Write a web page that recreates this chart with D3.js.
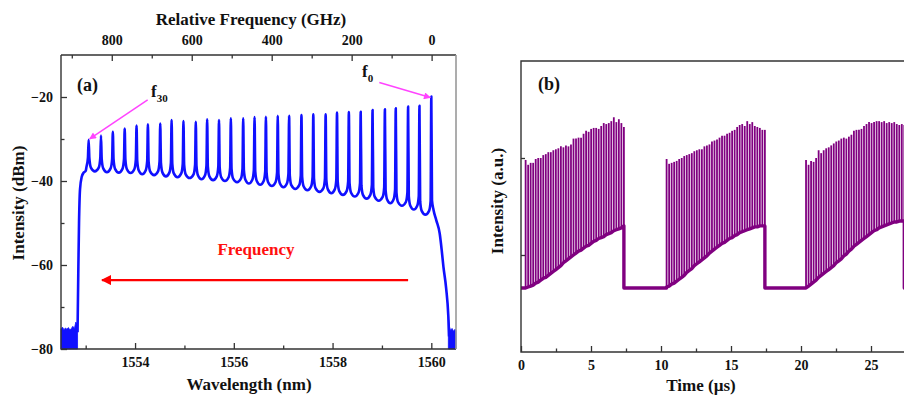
<!DOCTYPE html>
<html>
<head>
<meta charset="utf-8">
<script src="https://cdn.jsdelivr.net/npm/d3@7"></script>
<style>
  body { margin: 0; background: #fff; }
  svg text { font-family: "Liberation Serif", "Times New Roman", serif; font-weight: bold; fill: #111; }
</style>
</head>
<body>
<svg id="chart" width="904" height="399"></svg>
<script>
// ---------- panel (a): comb spectrum ----------
// comb lines, short -> long wavelength (f30 ... f0)
const peakWl = [1553.06, 1553.31, 1553.55, 1553.79, 1554.03, 1554.26, 1554.51, 1554.74, 1554.98, 1555.23,
                1555.46, 1555.70, 1555.94, 1556.19, 1556.42, 1556.65, 1556.89, 1557.12, 1557.37, 1557.61,
                1557.86, 1558.09, 1558.33, 1558.57, 1558.81, 1559.06, 1559.28, 1559.53, 1559.76, 1560.00];
const peakDbm = [-30.2, -29.2, -28.3, -27.5, -26.8, -26.5, -26.3, -25.5, -25.7, -25.9,
                 -25.3, -25.5, -25.1, -25.1, -24.8, -24.7, -24.5, -24.5, -24.3, -24.1,
                 -24.1, -23.7, -23.6, -23.5, -23.1, -22.9, -22.7, -22.3, -22.1, -19.9];
// floor between neighbouring lines
const valleyDbm = [-37.7, -37.9, -38.0, -38.1, -38.4, -38.6, -38.9, -39.1, -39.3, -39.6,
                   -39.8, -40.0, -40.3, -40.6, -40.9, -41.2, -41.5, -41.9, -42.2, -42.6,
                   -42.9, -43.3, -43.7, -44.2, -44.7, -45.3, -45.9, -46.8, -48.0];
// filter edges
const leftEdge = [[1552.835, -76], [1552.85, -62], [1552.865, -50], [1552.885, -42], [1552.92, -39], [1552.96, -38.0], [1553.0, -37.6]];
const rightEdge = [[1560.10, -49.3], [1560.17, -52.5], [1560.21, -56.4], [1560.245, -60.4], [1560.30, -65.5], [1560.345, -72.3], [1560.36, -77]];
// noise floor outside the band
const noiseLeft = [[1552.50, -75.2], [1552.53, -74.8], [1552.56, -75.4], [1552.59, -75.0], [1552.62, -75.3], [1552.65, -74.9],
                   [1552.68, -75.5], [1552.71, -75.1], [1552.74, -74.6], [1552.77, -75.2], [1552.80, -73.6], [1552.835, -74.2]];
const noiseRight = [[1560.345, -72.5], [1560.37, -74.8], [1560.39, -75.6], [1560.42, -75.1], [1560.45, -75.8], [1560.48, -75.3], [1560.50, -75.6]];

const wlTicks = [1554, 1556, 1558, 1560];
const wlMinor = [1553, 1555, 1557, 1559];
const freqTicks = [800, 600, 400, 200, 0];
const freqMinor = [900, 700, 500, 300, 100];
const dbmTicks = [-80, -60, -40, -20];
const dbmMinor = [-70, -50, -30];

// ---------- panel (b): pulse bursts ----------
const burstStart = [0.33, 10.40, 20.36];
const pulseStep = 0.18;
const floorLevel = 0.66;
const burstTop = [
  [1.98, 1.93, 1.95, 1.95, 1.99, 2.00, 2.00, 2.03, 2.04, 2.06, 2.06, 2.08, 2.09, 2.10, 2.12, 2.11, 2.13, 2.12, 2.14, 2.20,
   2.20, 2.21, 2.21, 2.25, 2.28, 2.27, 2.30, 2.31, 2.31, 2.30, 2.33, 2.36, 2.35, 2.36, 2.38, 2.42, 2.37, 2.40, 2.36, 2.32],
  [1.99, 1.94, 1.95, 1.96, 1.97, 1.99, 2.00, 2.02, 2.03, 2.04, 2.05, 2.07, 2.08, 2.09, 2.09, 2.12, 2.13, 2.14, 2.17, 2.18,
   2.19, 2.21, 2.23, 2.23, 2.25, 2.26, 2.28, 2.29, 2.32, 2.34, 2.35, 2.33, 2.38, 2.35, 2.37, 2.33, 2.32, 2.31, 2.29, 2.29],
  [1.98, 1.93, 1.97, 1.96, 2.00, 2.08, 2.05, 2.08, 2.10, 2.11, 2.13, 2.15, 2.17, 2.18, 2.20, 2.21, 2.20, 2.22, 2.24, 2.28,
   2.29, 2.29, 2.30, 2.33, 2.35, 2.37, 2.36, 2.37, 2.38, 2.38, 2.37, 2.38, 2.36, 2.37, 2.36, 2.37, 2.35, 2.34, 2.35, 2.34]
];
const burstBase = [
  [0.66, 0.67, 0.68, 0.69, 0.71, 0.72, 0.74, 0.76, 0.77, 0.79, 0.81, 0.83, 0.85, 0.87, 0.89, 0.92, 0.94, 0.96, 0.98, 1.00,
   1.02, 1.04, 1.05, 1.07, 1.09, 1.10, 1.12, 1.14, 1.15, 1.17, 1.18, 1.19, 1.21, 1.22, 1.23, 1.25, 1.26, 1.27, 1.28, 1.30],
  [0.67, 0.68, 0.70, 0.71, 0.73, 0.75, 0.77, 0.79, 0.82, 0.84, 0.86, 0.89, 0.91, 0.93, 0.95, 0.97, 0.99, 1.02, 1.04, 1.06,
   1.08, 1.10, 1.12, 1.13, 1.15, 1.17, 1.18, 1.20, 1.21, 1.23, 1.24, 1.25, 1.26, 1.27, 1.28, 1.29, 1.29, 1.30, 1.30, 1.30],
  [0.66, 0.68, 0.70, 0.72, 0.74, 0.77, 0.79, 0.81, 0.83, 0.85, 0.87, 0.89, 0.92, 0.94, 0.96, 0.99, 1.01, 1.04, 1.06, 1.09,
   1.11, 1.13, 1.15, 1.17, 1.19, 1.21, 1.23, 1.25, 1.26, 1.28, 1.29, 1.30, 1.31, 1.32, 1.33, 1.34, 1.34, 1.35, 1.35, 1.35]
];
const timeTicks = [0, 5, 10, 15, 20, 25];
const timeMinor = [2.5, 7.5, 12.5, 17.5, 22.5, 27.5];
const intTicks = [1, 2];

const svg = d3.select("#chart");
const axisColor = "#333";
const blue = "#1010ff";
const purple = "#800080";
const pink = "#ff44ff";

const defs = svg.append("defs");
function marker(id, color, w, h) {
  defs.append("marker")
    .attr("id", id)
    .attr("viewBox", "0 0 10 10")
    .attr("refX", 9).attr("refY", 5)
    .attr("markerUnits", "userSpaceOnUse")
    .attr("markerWidth", w).attr("markerHeight", h)
    .attr("orient", "auto")
    .append("path")
    .attr("d", "M0,0 L10,5 L0,10 Z")
    .attr("fill", color);
}
marker("pinkHead", pink, 9, 7);
marker("redHead", "#ff0000", 14, 10);

// ================= panel (a) =================
const xa = d3.scaleLinear().domain([1552.5, 1560.5]).range([61, 456]);
const xf = d3.scaleLinear().domain([927, -61]).range([61, 456]);
const ya = d3.scaleLinear().domain([-80, -10]).range([349, 55]);

const ga = svg.append("g");

// noise floor areas
const noiseArea = d3.area().x(d => xa(d[0])).y0(ya(-80)).y1(d => ya(d[1]));
[noiseLeft, noiseRight].forEach(n => {
  ga.append("path").attr("d", noiseArea(n)).attr("fill", blue).attr("stroke", blue).attr("stroke-width", 0.8);
});

// build the trace from comb lines and valleys
let pts = leftEdge.slice();
peakWl.forEach((w, i) => {
  const vl = i === 0 ? -37.6 : valleyDbm[i - 1];
  const vr = i === peakWl.length - 1 ? rightEdge[0][1] + 1.5 : valleyDbm[i];
  pts.push([w - 0.045, vl + 0.9], [w - 0.014, vl + 3.2], [w, peakDbm[i]], [w + 0.014, vr + 3.2], [w + 0.045, vr + 0.9]);
  if (i < peakWl.length - 1) pts.push([(w + peakWl[i + 1]) / 2, valleyDbm[i]]);
});
pts = pts.concat(rightEdge);

const specLine = d3.line().x(d => xa(d[0])).y(d => ya(d[1])).curve(d3.curveMonotoneX);
ga.append("path")
  .attr("d", specLine(pts))
  .attr("fill", "none")
  .attr("stroke", blue)
  .attr("stroke-width", 2.6)
  .attr("stroke-linejoin", "round");

// axes (inward ticks)
function minorAxis(g, axis) { g.call(axis).call(s => s.select(".domain").remove()).selectAll("text").remove(); }

ga.append("g").attr("transform", "translate(0,349)")
  .call(d3.axisBottom(xa).tickValues(wlTicks).tickSize(-6).tickPadding(8).tickFormat(d3.format("d")))
  .call(s => s.select(".domain").remove())
  .call(s => s.selectAll("text").style("font-size", "14px"));
ga.append("g").attr("transform", "translate(0,349)").call(g => minorAxis(g, d3.axisBottom(xa).tickValues(wlMinor).tickSize(-3.5)));

ga.append("g").attr("transform", "translate(0,55)")
  .call(d3.axisTop(xf).tickValues(freqTicks).tickSize(-6).tickPadding(10).tickFormat(d3.format("d")))
  .call(s => s.select(".domain").remove())
  .call(s => s.selectAll("text").style("font-size", "14px"));
ga.append("g").attr("transform", "translate(0,55)").call(g => minorAxis(g, d3.axisTop(xf).tickValues(freqMinor).tickSize(-3.5)));

ga.append("g").attr("transform", "translate(61,0)")
  .call(d3.axisLeft(ya).tickValues(dbmTicks).tickSize(-6).tickPadding(8))
  .call(s => s.select(".domain").remove())
  .call(s => s.selectAll("text").style("font-size", "14px"));
ga.append("g").attr("transform", "translate(61,0)").call(g => minorAxis(g, d3.axisLeft(ya).tickValues(dbmMinor).tickSize(-3.5)));

ga.selectAll(".tick line").attr("stroke", axisColor).attr("stroke-width", 1.3);

// frame
ga.append("path").attr("d", "M61,55 H456 M61,55 V349 H456")
  .attr("fill", "none").attr("stroke", axisColor).attr("stroke-width", 1.4);
ga.append("line").attr("x1", 456).attr("x2", 456).attr("y1", 55).attr("y2", 349)
  .attr("stroke", "#999").attr("stroke-width", 1.6);

// titles
ga.append("text").attr("x", 251).attr("y", 25).attr("text-anchor", "middle").style("font-size", "17px")
  .text("Relative Frequency (GHz)");
ga.append("text").attr("x", 249).attr("y", 390).attr("text-anchor", "middle").style("font-size", "17px")
  .text("Wavelength (nm)");
ga.append("text").attr("transform", "translate(24,203) rotate(-90)").attr("text-anchor", "middle").style("font-size", "17px")
  .text("Intensity (dBm)");
ga.append("text").attr("x", 77).attr("y", 91).style("font-size", "18px").text("(a)");

// f30 / f0 labels and arrows
const f30 = [xa(peakWl[0]) + 1, ya(peakDbm[0]) - 1];
const f0 = [xa(peakWl[peakWl.length - 1]) - 1, ya(peakDbm[peakDbm.length - 1]) + 1];
ga.append("line").attr("x1", f30[0] + 58).attr("y1", f30[1] - 39).attr("x2", f30[0]).attr("y2", f30[1])
  .attr("stroke", pink).attr("stroke-width", 1.5).attr("marker-end", "url(#pinkHead)");
ga.append("line").attr("x1", f0[0] - 51).attr("y1", f0[1] - 15).attr("x2", f0[0]).attr("y2", f0[1])
  .attr("stroke", pink).attr("stroke-width", 1.5).attr("marker-end", "url(#pinkHead)");
ga.append("text").attr("x", 151).attr("y", 97).style("font-size", "17px")
  .text("f").append("tspan").attr("dy", 5).style("font-size", "11px").text("30");
ga.append("text").attr("x", 362).attr("y", 77).style("font-size", "17px")
  .text("f").append("tspan").attr("dy", 5).style("font-size", "11px").text("0");

// frequency direction
ga.append("text").attr("x", 256).attr("y", 255).attr("text-anchor", "middle")
  .style("font-size", "17px").style("fill", "#ff1010").text("Frequency");
ga.append("line").attr("x1", xa(1559.53)).attr("x2", xa(1553.33)).attr("y1", ya(-63.6)).attr("y2", ya(-63.6))
  .attr("stroke", "#ff0000").attr("stroke-width", 2.4).attr("marker-end", "url(#redHead)");

// ================= panel (b) =================
const xb = d3.scaleLinear().domain([0, 30]).range([521, 941]);
const yb = d3.scaleLinear().domain([0, 3]).range([352, 61]);
const gb = svg.append("g");

// baseline trace through the pulse bottoms, flat between bursts
let base = [[0, floorLevel]];
burstStart.forEach((t0, b) => {
  base.push([t0, floorLevel]);
  burstBase[b].forEach((v, i) => base.push([t0 + i * pulseStep, v]));
  const tEnd = t0 + (burstBase[b].length - 1) * pulseStep;
  base.push([tEnd + 0.001, floorLevel]);
});
base.push([30, floorLevel]);
gb.append("path")
  .attr("d", d3.line().x(d => xb(d[0])).y(d => yb(d[1]))(base))
  .attr("fill", "none").attr("stroke", purple).attr("stroke-width", 3.4).attr("stroke-linejoin", "round");

// pulses
burstStart.forEach((t0, b) => {
  const pulses = burstTop[b].map((top, i) => ({ t: t0 + i * pulseStep, top: top, low: burstBase[b][i] }));
  gb.selectAll(null).data(pulses).enter().append("line")
    .attr("x1", d => xb(d.t)).attr("x2", d => xb(d.t))
    .attr("y1", d => yb(d.low)).attr("y2", d => yb(d.top))
    .attr("stroke", purple).attr("stroke-width", 1.8);
});

gb.append("g").attr("transform", "translate(0,352)")
  .call(d3.axisBottom(xb).tickValues(timeTicks).tickSize(-6).tickPadding(8))
  .call(s => s.select(".domain").remove())
  .call(s => s.selectAll("text").style("font-size", "14px"));
gb.append("g").attr("transform", "translate(0,352)").call(g => minorAxis(g, d3.axisBottom(xb).tickValues(timeMinor).tickSize(-3.5)));
gb.append("g").attr("transform", "translate(521,0)").call(g => minorAxis(g, d3.axisLeft(yb).tickValues(intTicks).tickSize(-4)));
gb.selectAll(".tick line").attr("stroke", axisColor).attr("stroke-width", 1.3);

gb.append("path").attr("d", "M904,61 H521 V352 H904")
  .attr("fill", "none").attr("stroke", axisColor).attr("stroke-width", 1.4);

gb.append("text").attr("x", 701).attr("y", 391).attr("text-anchor", "middle").style("font-size", "17px")
  .text("Time (\u00b5s)");
gb.append("text").attr("transform", "translate(503,201) rotate(-90)").attr("text-anchor", "middle").style("font-size", "17px")
  .text("Intensity (a.u.)");
gb.append("text").attr("x", 538).attr("y", 90).style("font-size", "18px").text("(b)");
</script>
</body>
</html>
